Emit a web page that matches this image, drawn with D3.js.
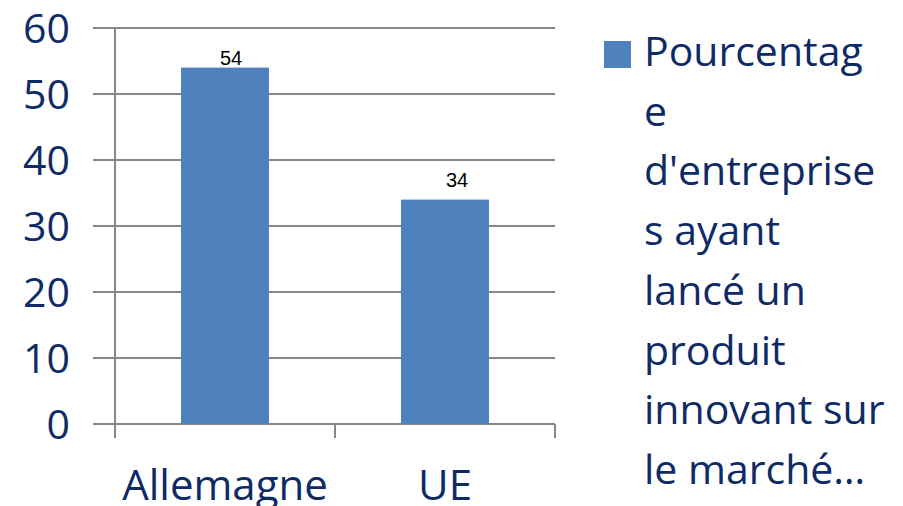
<!DOCTYPE html>
<html>
<head>
<meta charset="utf-8">
<script src="https://cdn.jsdelivr.net/npm/d3@7"></script>
<style>
  body { margin: 0; background: #fff; }
</style>
</head>
<body>
<div class="chart"></div>
<script>
// data
const categories = ["Allemagne", "UE"];
const values = [54, 34];
const yTicks = [0, 10, 20, 30, 40, 50, 60];
const legendLines = ["Pourcentag", "e", "d'entreprise", "s ayant", "lancé un", "produit", "innovant sur", "le marché…"];

const W = 903, H = 506;
const plotLeft = 115, plotRight = 555, plotTop = 28, plotBottom = 424;
const navy = "#0F2B66";
const grey = "#878787";
const barColor = "#4F81BD";

const svg = d3.select(".chart")
    .append("svg")
    .attr("width", W)
    .attr("height", H);

const x = d3.scaleBand()
    .domain(categories)
    .range([plotLeft, plotRight])
    .paddingInner(0.6)
    .paddingOuter(0.3);

const y = d3.scaleLinear()
    .domain([0, 60])
    .range([plotBottom, plotTop]);

// gridlines + y labels
svg.append("g")
    .selectAll("line")
    .data(yTicks)
    .enter()
    .append("line")
    .attr("x1", 93)
    .attr("x2", plotRight)
    .attr("y1", d => y(d))
    .attr("y2", d => y(d))
    .style("stroke", grey)
    .style("stroke-width", 2);

svg.append("g")
    .selectAll("text")
    .data(yTicks)
    .enter()
    .append("text")
    .attr("x", 70)
    .attr("y", d => y(d) + 15)
    .attr("text-anchor", "end")
    .style("font-family", "'Open Sans', sans-serif")
    .style("font-size", "41px")
    .style("fill", navy)
    .text(d => d);

// y axis line
svg.append("line")
    .attr("x1", plotLeft).attr("x2", plotLeft)
    .attr("y1", plotTop).attr("y2", plotBottom)
    .style("stroke", grey)
    .style("stroke-width", 2);

// category boundary ticks below the axis
const bounds = [plotLeft].concat(categories.map((c, i) => plotLeft + x.step() * (i + 1)));
svg.append("g")
    .selectAll("line")
    .data(bounds)
    .enter()
    .append("line")
    .attr("x1", d => d).attr("x2", d => d)
    .attr("y1", plotBottom).attr("y2", plotBottom + 14)
    .style("stroke", grey)
    .style("stroke-width", 2);

// bars
svg.append("g")
    .selectAll("rect")
    .data(values)
    .enter()
    .append("rect")
    .attr("x", (d, i) => x(categories[i]))
    .attr("y", d => y(d))
    .attr("width", x.bandwidth())
    .attr("height", d => y(0) - y(d))
    .style("fill", barColor);

// value labels
svg.append("g")
    .selectAll("text")
    .data(values)
    .enter()
    .append("text")
    .attr("x", (d, i) => x(categories[i]) + x.bandwidth() / 2 + 6 + 6 * i)
    .attr("y", d => Math.max(y(d) - 13, 65))
    .attr("text-anchor", "middle")
    .style("font-family", "'Liberation Sans', Arial, sans-serif")
    .style("font-size", "20px")
    .style("fill", "#000")
    .text(d => d);

// x labels
svg.append("g")
    .selectAll("text")
    .data(categories)
    .enter()
    .append("text")
    .attr("x", d => x(d) + x.bandwidth() / 2)
    .attr("y", 500)
    .attr("text-anchor", "middle")
    .style("font-family", "'Open Sans', sans-serif")
    .style("font-size", "42px")
    .style("fill", navy)
    .text(d => d);

// legend
svg.append("rect")
    .attr("x", 604)
    .attr("y", 41)
    .attr("width", 27)
    .attr("height", 27)
    .style("fill", barColor);

svg.append("g")
    .selectAll("text")
    .data(legendLines)
    .enter()
    .append("text")
    .attr("x", 644)
    .attr("y", (d, i) => 66 + i * 59.7)
    .style("font-family", "'Open Sans', sans-serif")
    .style("font-size", "41px")
    .style("fill", navy)
    .text(d => d);
</script>
</body>
</html>
